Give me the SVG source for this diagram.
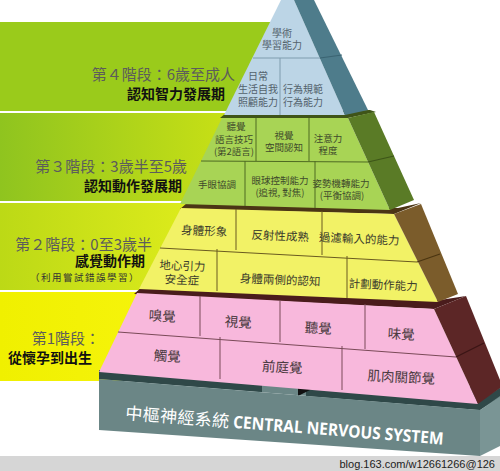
<svg xmlns="http://www.w3.org/2000/svg" width="500" height="471" viewBox="0 0 500 471">
<defs>
<linearGradient id="g3" x1="0" y1="0" x2="1" y2="0"><stop offset="0" stop-color="#8fc41f"/><stop offset="1" stop-color="#d0e414"/></linearGradient>
<linearGradient id="g2" x1="0" y1="0" x2="1" y2="0"><stop offset="0" stop-color="#bcd916"/><stop offset="1" stop-color="#e2ee1c"/></linearGradient>
<linearGradient id="g1" x1="0" y1="0" x2="1" y2="0"><stop offset="0" stop-color="#f0f000"/><stop offset="1" stop-color="#f6f40c"/></linearGradient>
<style>
text{font-family:"Noto Sans CJK TC","Noto Sans CJK SC",sans-serif}
.lbl{font-size:15px;fill:#5c5c5c;text-anchor:end}
.lbb{font-size:14px;font-weight:bold;fill:#111}
.c4{font-size:10px;fill:#53626c;text-anchor:middle}
.c3{font-size:9.5px;fill:#3f4a2c;text-anchor:middle}
.c2{font-size:11.5px;fill:#3c3c2c;text-anchor:middle}
.c1{font-size:13.5px;fill:#4a3a40;text-anchor:middle}
.l4{stroke:#7f9cae;stroke-width:1;fill:none}
.l3{stroke:#4e6a22;stroke-width:1;fill:none}
.l2{stroke:#6a5a20;stroke-width:1;fill:none}
.l1{stroke:#7a4a58;stroke-width:1;fill:none}
.sd{stroke-width:1.2;fill:none}
</style>
</defs>
<rect width="500" height="471" fill="#ffffff"/>
<g id="bands">
<rect x="0" y="22" width="300" height="89" fill="#9acb1b"/>
<rect x="0" y="113" width="260" height="88" fill="url(#g3)"/>
<rect x="0" y="203" width="220" height="87" fill="url(#g2)"/>
<rect x="0" y="292" width="160" height="89" fill="url(#g1)"/>
</g>
<rect id="footer" x="0" y="456" width="500" height="15" fill="#d6d6d6"/>
<text x="495" y="467.5" style="font-family:'Liberation Sans',Arial,sans-serif;font-size:11px;fill:#222;text-anchor:end">blog.163.com/w12661266@126</text>
<g id="base">
<polygon points="99,370 500,388 500,398 480,410 99,379" fill="#6b8686"/>
<polygon points="99,370 262,383 262,392 99,379" fill="#2f4848"/>
<polygon points="306,387 480,401 500,388 500,396 480,410 306,396" fill="#2f4848"/>
<polygon points="298,387 312,389 298,396" fill="#111"/>
<polygon points="99,379 480,410 480,456 99,430" fill="#6b8686"/>
<polygon points="480,410 500,397 500,446 480,456" fill="#7a9595"/>
<g transform="translate(125,419) rotate(4.6)">
<text x="0" y="0" textLength="104" style="font-size:17px;fill:#fff">中樞神經系統</text>
<text x="108" y="0" textLength="211" lengthAdjust="spacingAndGlyphs" style="font-family:'Open Sans','Liberation Sans',sans-serif;font-size:17px;font-weight:bold;fill:#fff">CENTRAL NERVOUS SYSTEM</text>
</g>
</g>
<g id="level1">
<polygon points="134,294 142,287 440,300 466,296 434,309" fill="#4a1c1c"/>
<polygon points="137,293 434,309 478,404 99,372" fill="#f8b8dc"/>
<polygon points="434,309 466,296 500,380 500,388 478,404" fill="#5c2626"/>
<path class="l1" d="M118,332 L456,357 M200,296 V336 M280,300 V342 M365,304 V349 M220,337 V379 M342,346 V390"/>
<path class="sd" stroke="#3a1414" d="M456,357 L484,343"/>
<text class="c1" transform="rotate(3 162 321)" x="162" y="321">嗅覺</text>
<text class="c1" transform="rotate(3 238 327)" x="238" y="327">視覺</text>
<text class="c1" transform="rotate(3 318 333)" x="318" y="333">聽覺</text>
<text class="c1" transform="rotate(3 401 339)" x="401" y="339">味覺</text>
<text class="c1" transform="rotate(3 167 361)" x="167" y="361">觸覺</text>
<text class="c1" transform="rotate(3 282 372)" x="282" y="372">前庭覺</text>
<text class="c1" transform="rotate(3 401 382)" x="401" y="382">肌肉關節覺</text>
</g>
<g id="level2">
<polygon points="180,209 187,203 398,208 421,203 394,214" fill="#4b3515"/>
<polygon points="181,208 394,214 438,302 139,289" fill="#f2f266"/>
<polygon points="394,214 421,204 458,294 438,302" fill="#7b5c2b"/>
<path class="l2" d="M160,248 L417,262 M236,209 V250 M322,211 V255 M217,249 V291 M347,256 V298"/>
<path class="sd" stroke="#4a3410" d="M417,262 L440,254"/>
<text class="c2" transform="rotate(2.5 204 235)" x="204" y="235">身體形象</text>
<text class="c2" transform="rotate(2.5 280 240)" x="280" y="240">反射性成熟</text>
<text class="c2" transform="rotate(2.5 359 243)" x="359" y="243">過濾輸入的能力</text>
<text class="c2" transform="rotate(2.5 182 277)" x="182" y="270"><tspan x="182" y="270">地心引力</tspan><tspan x="182" y="284">安全症</tspan></text>
<text class="c2" transform="rotate(2.5 280 284)" x="280" y="284">身體兩側的認知</text>
<text class="c2" transform="rotate(2.5 383 289)" x="383" y="289">計劃動作能力</text>
</g>
<g id="level3">
<polygon points="220,118 226,113 370,110 376,112 348,118" fill="#3f5418"/>
<polygon points="222,118 348,118 390,210 180,204" fill="#a8d455"/>
<polygon points="348,118 374,112 414,200 390,210" fill="#5a7b26"/>
<path class="l3" d="M201,161 L368,162 M256,118 V161 M309,118 V161 M245,161 V206 M315,161 V208"/>
<path class="sd" stroke="#3d5518" d="M368,162 L394,156"/>
<text class="c3"><tspan x="236" y="130">聽覺</tspan><tspan x="234" y="143">語言技巧</tspan><tspan x="234" y="155">(第2語言)</tspan></text>
<text class="c3"><tspan x="284" y="139">視覺</tspan><tspan x="284" y="151">空間認知</tspan></text>
<text class="c3"><tspan x="328" y="142">注意力</tspan><tspan x="328" y="154">程度</tspan></text>
<text class="c3" x="217" y="188">手眼協調</text>
<text class="c3"><tspan x="280" y="184">眼球控制能力</tspan><tspan x="280" y="196">(追視, 對焦)</tspan></text>
<text class="c3"><tspan x="341" y="187">姿勢機轉能力</tspan><tspan x="342" y="199">(平衡協調)</tspan></text>
</g>
<g id="level4">
<polygon points="281,0 294,0 345,115 224,115" fill="#bcd5e6"/>
<polygon points="294,0 314,0 368,110 345,115" fill="#4e7c8b"/>
<path class="l4" d="M253,58 L320,58 M280,58 V115"/>
<path class="sd" stroke="#3b6472" d="M320,58 L342,55"/>
<text class="c4"><tspan x="282" y="36.5">學術</tspan><tspan x="282" y="49">學習能力</tspan></text>
<text class="c4"><tspan x="258" y="79.5">日常</tspan><tspan x="258" y="93">生活自我</tspan><tspan x="258" y="105.5">照顧能力</tspan></text>
<text class="c4"><tspan x="303" y="92.5">行為規範</tspan><tspan x="303" y="105.5">行為能力</tspan></text>
</g>
<g id="labels">
<text class="lbl"><tspan x="235" y="80">第４階段：6歲至成人</tspan><tspan class="lbb" x="225" y="99">認知智力發展期</tspan></text>
<text class="lbl"><tspan x="187" y="172">第３階段：3歲半至5歲</tspan><tspan class="lbb" x="182" y="191">認知動作發展期</tspan></text>
<text class="lbl"><tspan x="152" y="250">第２階段：0至3歲半</tspan><tspan class="lbb" x="145" y="266">感覺動作期</tspan><tspan x="140" y="281" style="font-size:9.5px;fill:#333;letter-spacing:1.5px">（利用嘗試錯誤學習）</tspan></text>
<text class="lbl"><tspan x="100" y="344">第1階段：</tspan><tspan class="lbb" x="92" y="363">從懷孕到出生</tspan></text>
</g>
<g id="connectors"/>
</svg>
